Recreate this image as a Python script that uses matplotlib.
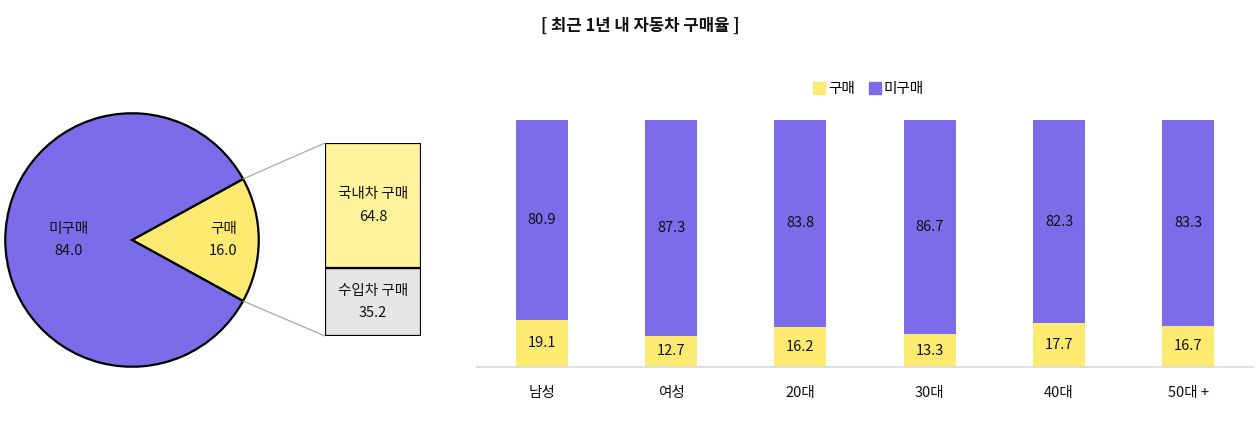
import matplotlib
matplotlib.use("Agg")
import matplotlib.pyplot as plt
from matplotlib.patches import ConnectionPatch
from matplotlib.lines import Line2D
import numpy as np

plt.rcParams['font.family'] = ['Noto Sans CJK KR', 'DejaVu Sans']

# ---- data ----
title = "[ 최근 1년 내 자동차 구매율 ]"
pie_labels = ["구매", "미구매"]
pie_values = [16.0, 84.0]
sub_labels = ["국내차 구매", "수입차 구매"]
sub_values = [64.8, 35.2]
categories = ["남성", "여성", "20대", "30대", "40대", "50대 +"]
buy = [19.1, 12.7, 16.2, 13.3, 17.7, 16.7]
nobuy = [80.9, 87.3, 83.8, 86.7, 82.3, 83.3]
series_names = ["구매", "미구매"]

YELLOW = "#FDEB71"
PURPLE = "#7B6CE9"
LIGHT_YELLOW = "#FEF39B"
GRAY = "#E6E6E6"
TXT = "#111111"

W, H = 1259, 421
fig = plt.figure(figsize=(W / 100, H / 100), dpi=100)

def px_axes(x0, y0, x1, y1):
    return fig.add_axes([x0 / W, 1 - y1 / H, (x1 - x0) / W, (y1 - y0) / H])

# ---- pie ----
axp = px_axes(4, 112, 260, 368)
half = pie_values[0] / 100 * 360 / 2
axp.pie(pie_values, colors=[YELLOW, PURPLE], startangle=-half, counterclock=True,
        radius=1, wedgeprops=dict(edgecolor="black", linewidth=1.6))
axp.set_xlim(-1.01, 1.01)
axp.set_ylim(-1.01, 1.01)
axp.set_aspect("auto")
axp.axis("off")
axp.text(0.72, 0.0, f"{pie_labels[0]}\n{pie_values[0]:.1f}", ha="center", va="center",
         fontsize=10.5, color=TXT, linespacing=1.75)
axp.text(-0.5, 0.0, f"{pie_labels[1]}\n{pie_values[1]:.1f}", ha="center", va="center",
         fontsize=10.5, color=TXT, linespacing=1.75)

# ---- breakdown box ----
axb = px_axes(325, 143, 421, 336)
axb.bar([0.5], [sub_values[1]], width=1.0, bottom=0, color=GRAY, edgecolor="black", linewidth=1.6)
axb.bar([0.5], [sub_values[0]], width=1.0, bottom=sub_values[1], color=LIGHT_YELLOW,
        edgecolor="black", linewidth=1.6)
axb.set_xlim(0, 1)
axb.set_ylim(0, 100)
axb.axis("off")
axb.text(0.5, sub_values[1] + sub_values[0] / 2, f"{sub_labels[0]}\n{sub_values[0]:.1f}",
         ha="center", va="center", fontsize=10.5, color=TXT, linespacing=1.75)
axb.text(0.5, sub_values[1] / 2, f"{sub_labels[1]}\n{sub_values[1]:.1f}",
         ha="center", va="center", fontsize=10.5, color=TXT, linespacing=1.75)

ang = np.deg2rad(half)
for sgn, yb in [(1, 100), (-1, 0)]:
    con = ConnectionPatch(xyA=(np.cos(ang), sgn * np.sin(ang)), coordsA=axp.transData,
                          xyB=(0, yb), coordsB=axb.transData, color="#A8A8A8", linewidth=0.9)
    fig.add_artist(con)

# ---- stacked bars ----
axs = px_axes(477, 120, 1253, 367)
x = np.arange(len(categories))
axs.bar(x, buy, width=0.4, color=YELLOW, label=series_names[0])
axs.bar(x, nobuy, width=0.4, bottom=buy, color=PURPLE, label=series_names[1])
for xi, b, n in zip(x, buy, nobuy):
    axs.text(xi, b / 2, f"{b:.1f}", ha="center", va="center", fontsize=10.5, color=TXT)
    axs.text(xi, b + n / 2, f"{n:.1f}", ha="center", va="center", fontsize=10.5, color=TXT)
axs.set_xlim(-0.5, len(categories) - 0.5)
axs.set_ylim(0, 100)
axs.set_xticks(x)
axs.set_xticklabels(categories, fontsize=10.5, color=TXT)
axs.tick_params(axis="x", length=0, pad=14)
axs.set_yticks([])
for s in ["top", "right", "left"]:
    axs.spines[s].set_visible(False)
axs.spines["bottom"].set_color("#D9D9D9")
axs.spines["bottom"].set_linewidth(1.2)

handles = [Line2D([], [], marker="s", linestyle="none", markersize=8, markerfacecolor=c,
                  markeredgecolor=c) for c in (YELLOW, PURPLE)]
fig.legend(handles, series_names, loc="center", bbox_to_anchor=(868 / W, 1 - 89 / H),
           ncol=2, frameon=False, fontsize=10.5, handletextpad=0.1, columnspacing=0.9,
           handlelength=1.0)

fig.text(640 / W, 1 - 26 / H, title, ha="center", va="center", fontsize=12,
         fontweight="heavy", color=TXT)

fig.savefig("out.png", dpi=100)
